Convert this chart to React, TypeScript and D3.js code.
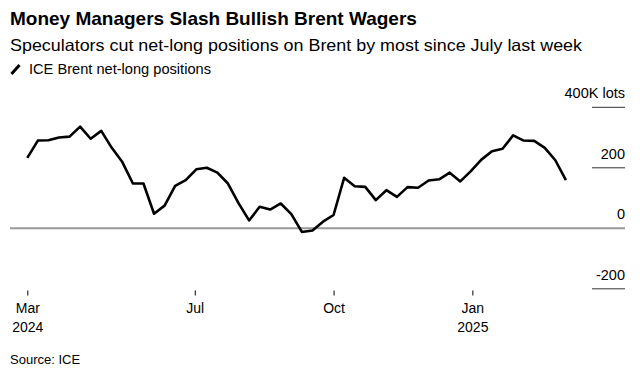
import React from "react";
import * as d3 from "d3";

const title = "Money Managers Slash Bullish Brent Wagers";
const subtitle = "Speculators cut net-long positions on Brent by most since July last week";
const legendLabel = "ICE Brent net-long positions";
const source = "Source: ICE";

const startDate = new Date(2024, 2, 12);
// weekly readings (thousand lots)
const netLong = [
  233, 290, 291, 300, 303, 336, 296, 322, 266, 219, 148, 148, 48, 75, 140, 159,
  195, 200, 184, 148, 83, 26, 71, 62, 82, 47, -12, -7, 22, 44, 167, 139, 137, 93,
  126, 104, 136, 134, 158, 162, 184, 155, 189, 227, 255, 263, 307, 290, 289, 266,
  225, 159,
];
const dates = netLong.map((_, i) => d3.timeWeek.offset(startDate, i));

const xTickDates = [new Date(2024, 2, 12), new Date(2024, 6, 1), new Date(2024, 9, 1), new Date(2025, 0, 1)];
const xTickMonths = ["Mar", "Jul", "Oct", "Jan"];
const xTickYears = ["2024", "", "", "2025"];

const yTicks = [400, 200, 0, -200];
const yTickLabels = ["400K lots", "200", "0", "-200"];

const FONT = "'Liberation Sans', Arial, Helvetica, sans-serif";

export default function App() {
  const x = d3.scaleTime().domain([dates[0], dates[dates.length - 1]]).range([27.3, 565.9]);
  const y = d3.scaleLinear().domain([-200, 400]).range([288.8, 107.3]);
  const line = d3
    .line<number>()
    .x((_, i) => x(dates[i]))
    .y((d) => y(d))
    .curve(d3.curveLinear);

  return (
    <svg
      width={640}
      height={384}
      style={{ position: "absolute", left: 0, top: 0, background: "#fff" }}
      fontFamily={FONT}
    >
      <text x={10} y={25} fontSize={19} fontWeight="bold" fill="#000">
        {title}
      </text>
      <text x={10} y={50.5} fontSize={16.5} fill="#000" textLength={572} lengthAdjust="spacingAndGlyphs">
        {subtitle}
      </text>
      <line x1={11.5} y1={74} x2={19.5} y2={65} stroke="#000" strokeWidth={3} />
      <text x={29} y={74} fontSize={14} fill="#000" textLength={182} lengthAdjust="spacingAndGlyphs">
        {legendLabel}
      </text>

      {yTicks.map((t) =>
        t === 0 ? (
          <line key={t} x1={10} x2={625} y1={y(t)} y2={y(t)} stroke="#999" strokeWidth={2} />
        ) : (
          <line key={t} x1={592} x2={625} y1={y(t)} y2={y(t)} stroke="#333" strokeWidth={1} />
        )
      )}
      {yTicks.map((t, i) => (
        <text key={"l" + t} x={625} y={y(t) - 9} fontSize={14.5} textAnchor="end" fill="#000">
          {yTickLabels[i]}
        </text>
      ))}

      <path d={line(netLong) || ""} fill="none" stroke="#000" strokeWidth={2.6} strokeLinejoin="round" />

      {xTickDates.map((d, i) => (
        <g key={i} transform={`translate(${x(d) + 0.5},0)`}>
          <line y1={290.5} y2={295.5} stroke="#000" strokeWidth={1} />
          <text y={312.5} fontSize={14} textAnchor="middle" fill="#000">
            {xTickMonths[i]}
          </text>
          {xTickYears[i] && (
            <text y={331.5} fontSize={14} textAnchor="middle" fill="#000">
              {xTickYears[i]}
            </text>
          )}
        </g>
      ))}

      <text x={10} y={364} fontSize={13} fill="#000">
        {source}
      </text>
    </svg>
  );
}
